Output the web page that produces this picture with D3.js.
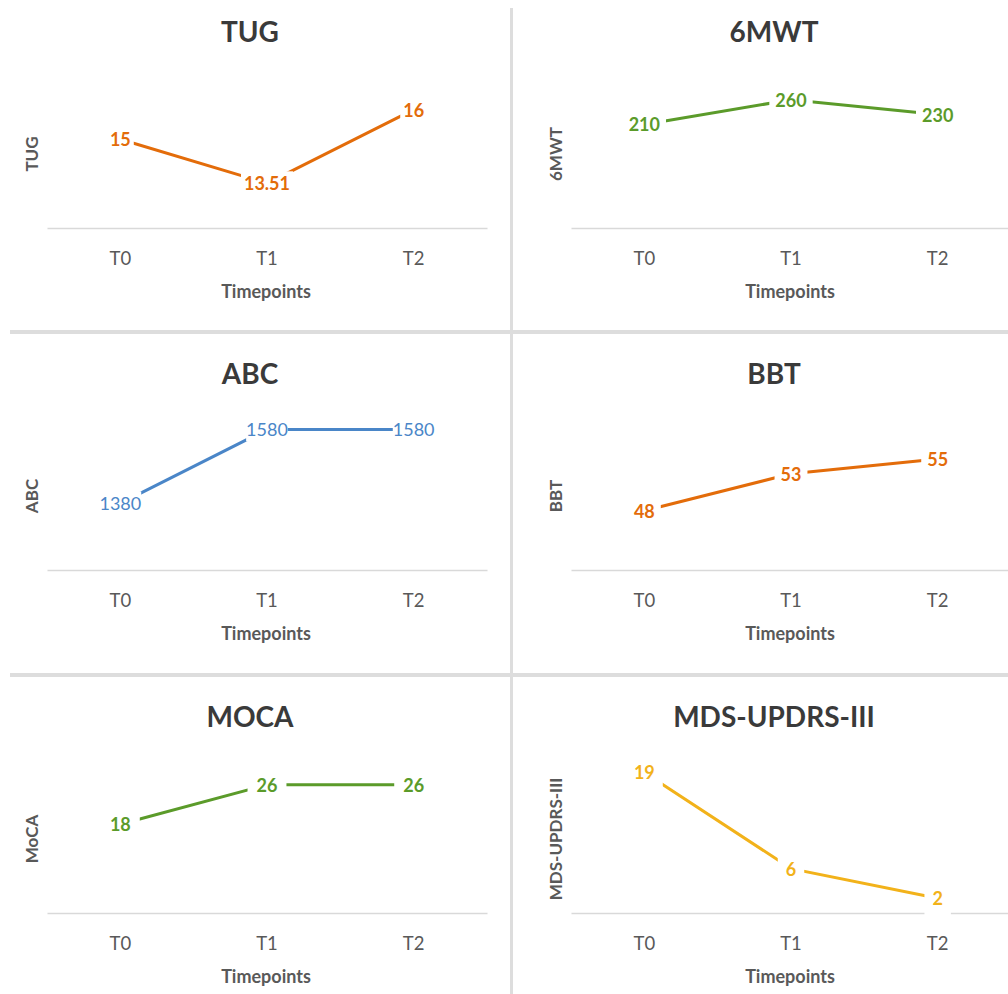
<!DOCTYPE html>
<html>
<head>
<meta charset="utf-8">
<script src="https://cdn.jsdelivr.net/npm/d3@7"></script>
<style>
  html, body { margin: 0; padding: 0; background: #fff; }
  svg { display: block; font-family: Lato, "Open Sans", sans-serif; }
</style>
</head>
<body>
<svg id="chart" width="1008" height="994"></svg>
<script>
// ---- data ----
const timepoints = ["T0", "T1", "T2"];
const panelTitles = ["TUG", "6MWT", "ABC", "BBT", "MOCA", "MDS-UPDRS-III"];
const yAxisTitles = ["TUG", "6MWT", "ABC", "BBT", "MoCA", "MDS-UPDRS-III"];
const xAxisTitle = "Timepoints";
const tugValues = [15, 13.51, 16];
const sixMwtValues = [210, 260, 230];
const abcValues = [1380, 1580, 1580];
const bbtValues = [48, 53, 55];
const mocaValues = [18, 26, 26];
const updrsValues = [19, 6, 2];
const labelTexts = [
  ["15", "13.51", "16"],
  ["210", "260", "230"],
  ["1380", "1580", "1580"],
  ["48", "53", "55"],
  ["18", "26", "26"],
  ["19", "6", "2"]
];
const yDomains = [[12, 17], [0, 300], [1200, 1600], [40, 60], [0, 30], [0, 20]];

// ---- styles / layout ----
const seriesColors = ["#E36C0A", "#5B9B2A", "#4A86C8", "#E36C0A", "#5B9B2A", "#F2B21A"];
const labelWeights = ["bold", "bold", "normal", "bold", "bold", "bold"];
const labelPads = [3, 6, 0, 6, 9, 8];
const labelVPads = [1, 2, 1, 2, 2, 6];
const values = [tugValues, sixMwtValues, abcValues, bbtValues, mocaValues, updrsValues];

const colX = [{x0: 47, x1: 487, title: 250, ylab: 31}, {x0: 571, x1: 1011, title: 774, ylab: 555}];
const rowY = [228, 570, 913];
const plotH = 148;

const svg = d3.select("#chart");

// separators
const sepColor = "#dddddd";
svg.append("rect").attr("x", 510).attr("y", 8).attr("width", 3).attr("height", 994).attr("fill", sepColor);
svg.append("rect").attr("x", 10).attr("y", 330).attr("width", 998).attr("height", 4).attr("fill", sepColor);
svg.append("rect").attr("x", 10).attr("y", 673).attr("width", 998).attr("height", 4).attr("fill", sepColor);

values.forEach((vals, i) => {
  const col = colX[i % 2];
  const axisY = rowY[Math.floor(i / 2)];
  const g = svg.append("g");

  const x = d3.scaleBand().domain(timepoints).range([col.x0, col.x1]);
  const y = d3.scaleLinear().domain(yDomains[i]).range([axisY, axisY - plotH]);
  const cx = d => x(d) + x.bandwidth() / 2;

  // x axis
  const xAxis = d3.axisBottom(x).tickSize(0).tickPadding(27);
  const ax = g.append("g").attr("transform", `translate(0,${axisY})`).call(xAxis);
  ax.select(".domain").attr("stroke", "#d9d9d9").attr("stroke-width", 1.5);
  ax.selectAll("text").attr("font-size", 18.5).attr("fill", "#595959")
    .attr("font-family", "Lato, 'Open Sans', sans-serif").attr("dy", "0.55em");

  // titles
  g.append("text").attr("x", col.title).attr("y", axisY - 186)
    .attr("text-anchor", "middle").attr("font-size", 28).attr("font-weight", "bold")
    .attr("fill", "#3a3a3a").text(panelTitles[i]);
  g.append("text").attr("x", (col.x0 + col.x1) / 2 - 1).attr("y", axisY + 70)
    .attr("text-anchor", "middle").attr("font-size", 18).attr("font-weight", "bold")
    .attr("fill", "#595959").text(xAxisTitle);
  g.append("text")
    .attr("transform", `translate(${col.ylab},${axisY - plotH / 2}) rotate(-90)`)
    .attr("text-anchor", "middle").attr("dominant-baseline", "central")
    .attr("font-size", 17).attr("font-weight", "bold").attr("fill", "#595959")
    .text(yAxisTitles[i]);

  // line
  const line = d3.line().x((d, j) => cx(timepoints[j])).y(d => y(d));
  g.append("path").datum(vals).attr("d", line)
    .attr("fill", "none").attr("stroke", seriesColors[i]).attr("stroke-width", 3);

  // data labels with white boxes
  vals.forEach((v, j) => {
    const lg = g.append("g");
    const t = lg.append("text").attr("x", cx(timepoints[j])).attr("y", y(v))
      .attr("text-anchor", "middle").attr("dominant-baseline", "central")
      .attr("font-size", 18).attr("font-weight", labelWeights[i])
      .attr("fill", seriesColors[i]).text(labelTexts[i][j]);
    const bb = t.node().getBBox();
    const pad = labelPads[i], vpad = labelVPads[i];
    lg.insert("rect", "text").attr("x", bb.x - pad).attr("y", bb.y - vpad)
      .attr("width", bb.width + 2 * pad).attr("height", bb.height + 2 * vpad).attr("fill", "#fff");
  });
});
</script>
</body>
</html>
